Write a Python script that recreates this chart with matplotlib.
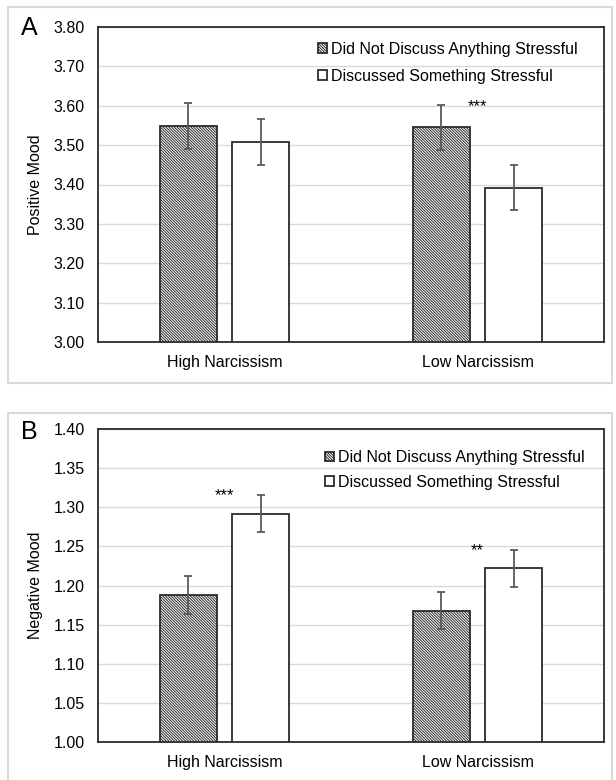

# two-panel mood bar chart (positive / negative mood by narcissism group)

import numpy as np
from matplotlib import pyplot as plt
from matplotlib.patches import Rectangle

plt.rcParams['font.family'] = ['Liberation Sans', 'DejaVu Sans']
plt.rcParams['hatch.linewidth'] = 0.7

groups = ['High Narcissism', 'Low Narcissism']
series = ['Did Not Discuss Anything Stressful', 'Discussed Something Stressful']

# panel A: positive mood
pos_none = [3.549, 3.545]
pos_none_err = [0.058, 0.057]
pos_stress = [3.508, 3.392]
pos_stress_err = [0.058, 0.058]
pos_stars = ['', '***']
pos_ticks = [3.00, 3.10, 3.20, 3.30, 3.40, 3.50, 3.60, 3.70, 3.80]

# panel B: negative mood
neg_none = [1.188, 1.168]
neg_none_err = [0.024, 0.024]
neg_stress = [1.292, 1.222]
neg_stress_err = [0.024, 0.024]
neg_stars = ['***', '**']
neg_ticks = [1.00, 1.05, 1.10, 1.15, 1.20, 1.25, 1.30, 1.35, 1.40]

W, H = 616, 780
fig = plt.figure(figsize=(W / 100, H / 100), dpi=100)

grid_c = '#d9d9d9'
err_c = '#595959'
edge_c = '#2b2b2b'
bw = 0.225
off = 0.1433
fs = 11.5


def fx(px):
    return px / W


def fy(py):
    return 1 - py / H


# light panel frames
fig.add_artist(Rectangle((fx(8), fy(383)), fx(612) - fx(8), fy(7) - fy(383),
                         transform=fig.transFigure, fill=False,
                         edgecolor=grid_c, linewidth=1.5))
fig.add_artist(Rectangle((fx(8), -0.05), fx(612) - fx(8), fy(413) + 0.05,
                         transform=fig.transFigure, fill=False,
                         edgecolor=grid_c, linewidth=1.5))

panels = [
    ['A', [fx(98), fy(342), fx(604) - fx(98), fy(27) - fy(342)], 'Positive Mood',
     pos_none, pos_none_err, pos_stress, pos_stress_err, pos_stars, pos_ticks,
     (0.435, 0.9535), 0.75, 28],
    ['B', [fx(98), fy(742), fx(604) - fx(98), fy(429) - fy(742)], 'Negative Mood',
     neg_none, neg_none_err, neg_stress, neg_stress_err, neg_stars, neg_ticks,
     (0.4486, 0.933), 0.6, 432],
]

x = np.arange(len(groups))

for p in panels:
    letter, rect, ylab, m1, e1, m2, e2, stars, ticks, leg_pos, leg_sp, let_y = p
    ax = fig.add_axes(rect)
    ax.set_axisbelow(True)

    h1 = ax.bar(x - off, m1, bw, color='white', edgecolor=edge_c,
                hatch='\\' * 12, linewidth=1.3, zorder=2)
    h2 = ax.bar(x + off, m2, bw, color='white', edgecolor=edge_c,
                linewidth=1.3, zorder=2)
    ax.errorbar(x - off, m1, yerr=e1, fmt='none', ecolor=err_c,
                elinewidth=1.3, capsize=2.8, capthick=1.3, zorder=3)
    ax.errorbar(x + off, m2, yerr=e2, fmt='none', ecolor=err_c,
                elinewidth=1.3, capsize=2.8, capthick=1.3, zorder=3)

    for i in range(len(groups)):
        if stars[i]:
            top = max(m1[i] + e1[i], m2[i] + e2[i])
            ax.annotate(stars[i], (x[i], top), xytext=(0, -1),
                        textcoords='offset points', ha='center', va='center',
                        fontsize=12)

    ax.set_xlim(-0.5, 1.5)
    ax.set_ylim(ticks[0], ticks[-1])
    ax.set_yticks(ticks, ['{:.2f}'.format(t) for t in ticks])
    ax.set_xticks(x, groups)
    ax.tick_params(axis='both', length=0, labelsize=fs)
    ax.tick_params(axis='y', pad=9.5)
    ax.tick_params(axis='x', pad=9.5)
    ax.grid(axis='y', color=grid_c, linewidth=1.0)
    for s in ax.spines.values():
        s.set_color(edge_c)
        s.set_linewidth(1.3)

    ax.set_ylabel(ylab, fontsize=fs)
    ax.yaxis.set_label_coords(-0.108, 0.5)

    ax.legend([h1, h2], series, loc='upper left', bbox_to_anchor=leg_pos,
              frameon=False, fontsize=fs, handlelength=0.55, handleheight=0.55,
              handletextpad=0.25, labelspacing=leg_sp, borderpad=0,
              borderaxespad=0)

    fig.text(fx(29.5), fy(let_y), letter, ha='center', va='center', fontsize=18)

plt.savefig('out.png', dpi=100)
